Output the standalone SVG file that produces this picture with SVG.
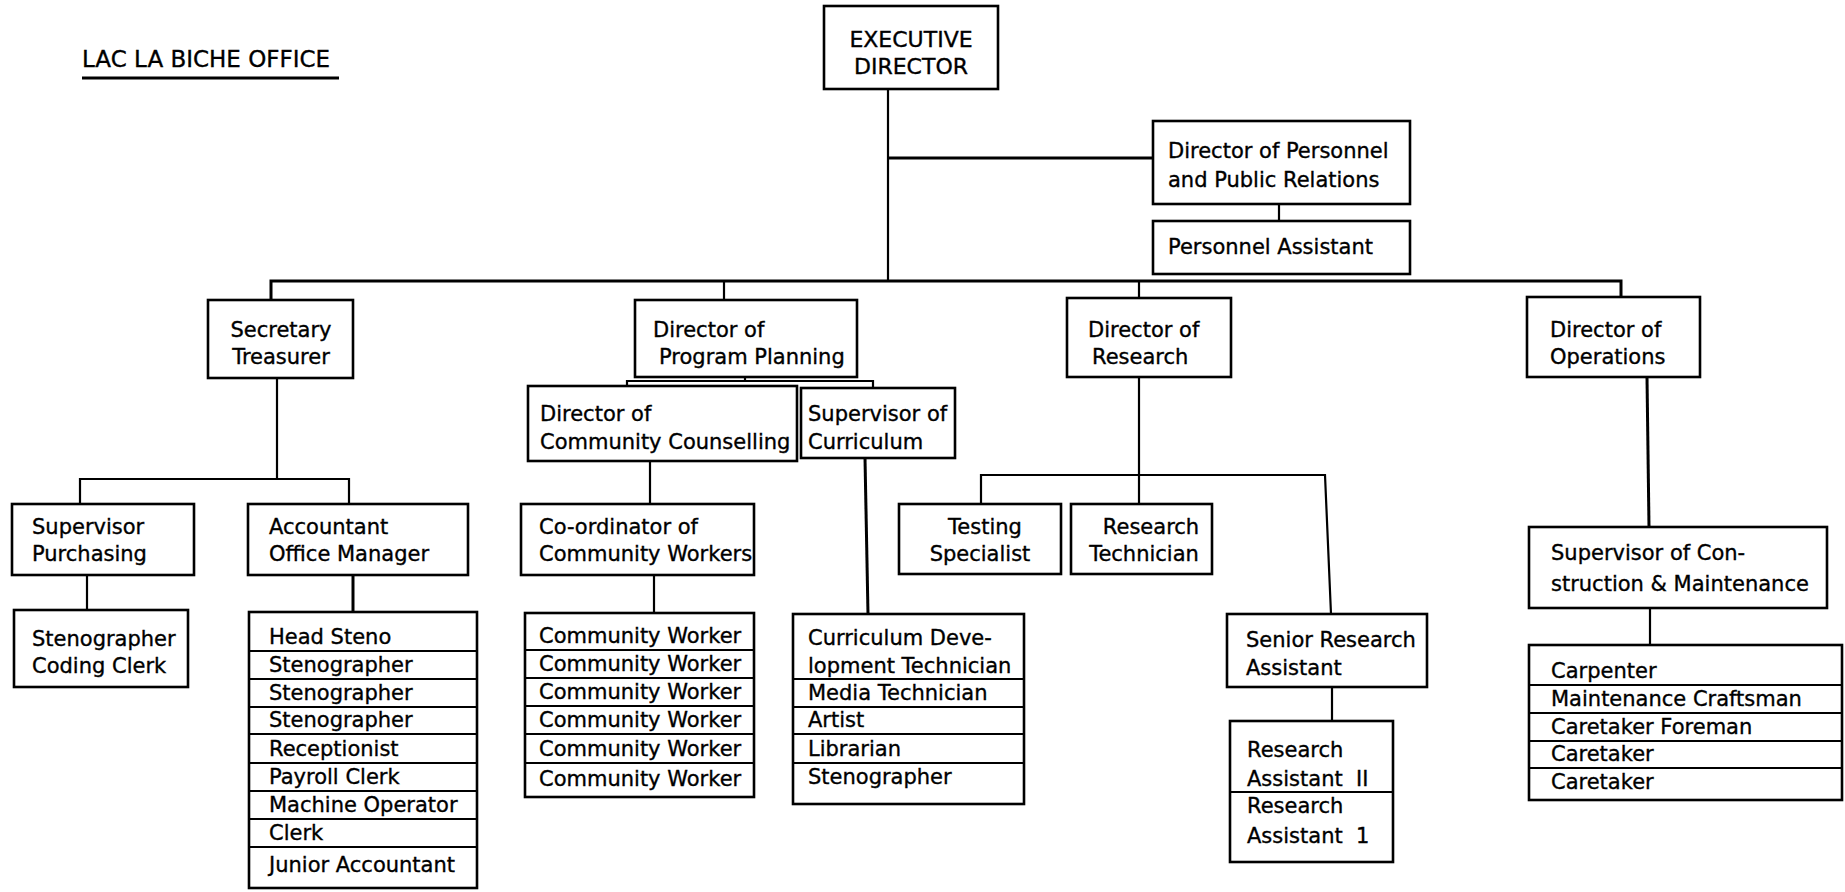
<svg xmlns="http://www.w3.org/2000/svg" width="1845" height="892" viewBox="0 0 1845 892">
<style>
.bg{fill:#fff}
.box{fill:#fff;stroke:#000;stroke-width:2.6}
.div{stroke:#000;stroke-width:2.2;fill:none}
.c{stroke:#000;stroke-width:2.2;fill:none}
.cb{stroke:#000;stroke-width:3;fill:none}
text{font-family:"DejaVu Sans","Liberation Sans",sans-serif;font-size:21px;fill:#000;stroke:#000;stroke-width:0.35}
.m{text-anchor:middle}
.h{font-size:22px}
</style>
<rect class="bg" x="0" y="0" width="1845" height="892"/>

<g id="title">
<text x="82" y="67" style="font-size:23px">LAC LA BICHE OFFICE</text>
<line x1="82" y1="78" x2="339" y2="78" stroke="#000" stroke-width="2.8"/>
</g>

<g id="connectors">
<polyline class="c" points="888,89 888,281"/>
<polyline class="cb" points="888,158 1153,158"/>
<polyline class="c" points="1279,204 1279,221"/>
<polyline class="cb" points="271,300 271,281 1621,281 1621,297"/>
<polyline class="c" points="724,281 724,300"/>
<polyline class="c" points="1139,281 1139,298"/>
<!-- Secretary Treasurer -->
<polyline class="c" points="277,378 277,479"/>
<polyline class="c" points="80,504 80,479 349,479 349,504"/>
<polyline class="c" points="87,575 87,610"/>
<polyline class="cb" points="353,575 353,612"/>
<!-- Program Planning -->
<polyline class="c" points="745,377 745,381"/>
<polyline class="c" points="627,386 627,381 873,381 873,388"/>
<polyline class="c" points="650,461 650,504"/>
<polyline class="c" points="654,575 654,613"/>
<polyline class="cb" points="865,458 868,614"/>
<!-- Research -->
<polyline class="c" points="1139,377 1139,504"/>
<polyline class="c" points="981,504 981,475 1325,475 1331,614"/>
<polyline class="c" points="1332,687 1332,721"/>
<!-- Operations -->
<polyline class="cb" points="1647,377 1649,527"/>
<polyline class="c" points="1650,608 1650,645"/>
</g>

<g id="executive-director">
<rect class="box" x="824" y="6" width="174" height="83"/>
<text class="m h" x="911" y="47">EXECUTIVE</text>
<text class="m h" x="911" y="74">DIRECTOR</text>
</g>

<g id="director-personnel">
<rect class="box" x="1153" y="121" width="257" height="83"/>
<text x="1168" y="158">Director of Personnel</text>
<text x="1168" y="187">and Public Relations</text>
</g>

<g id="personnel-assistant">
<rect class="box" x="1153" y="221" width="257" height="53"/>
<text x="1168" y="254">Personnel Assistant</text>
</g>

<g id="secretary-treasurer">
<rect class="box" x="208" y="300" width="145" height="78"/>
<text class="m" x="281" y="337">Secretary</text>
<text class="m" x="281" y="364">Treasurer</text>
</g>

<g id="director-program-planning">
<rect class="box" x="635" y="300" width="222" height="77"/>
<text x="653" y="337">Director of</text>
<text x="659" y="364">Program Planning</text>
</g>

<g id="director-research">
<rect class="box" x="1067" y="298" width="164" height="79"/>
<text x="1088" y="337">Director of</text>
<text x="1092" y="364">Research</text>
</g>

<g id="director-operations">
<rect class="box" x="1527" y="297" width="173" height="80"/>
<text x="1550" y="337">Director of</text>
<text x="1550" y="364">Operations</text>
</g>

<g id="supervisor-purchasing">
<rect class="box" x="12" y="504" width="182" height="71"/>
<text x="32" y="534">Supervisor</text>
<text x="32" y="561">Purchasing</text>
</g>

<g id="accountant-office-manager">
<rect class="box" x="248" y="504" width="220" height="71"/>
<text x="269" y="534">Accountant</text>
<text x="269" y="561">Office Manager</text>
</g>

<g id="stenographer-coding-clerk">
<rect class="box" x="14" y="610" width="174" height="77"/>
<text x="32" y="646">Stenographer</text>
<text x="32" y="673">Coding Clerk</text>
</g>

<g id="office-staff">
<rect class="box" x="249" y="612" width="228" height="276"/>
<path class="div" d="M249 651H477M249 679H477M249 707H477M249 734H477M249 763H477M249 791H477M249 819H477M249 847H477"/>
<text x="269" y="644">Head Steno</text>
<text x="269" y="672">Stenographer</text>
<text x="269" y="700">Stenographer</text>
<text x="269" y="727">Stenographer</text>
<text x="269" y="756">Receptionist</text>
<text x="269" y="784">Payroll Clerk</text>
<text x="269" y="812">Machine Operator</text>
<text x="269" y="840">Clerk</text>
<text x="269" y="872">Junior Accountant</text>
</g>

<g id="director-community-counselling">
<rect class="box" x="528" y="386" width="269" height="75"/>
<text x="540" y="421">Director of</text>
<text x="540" y="449">Community Counselling</text>
</g>

<g id="supervisor-curriculum">
<rect class="box" x="801" y="388" width="154" height="70"/>
<text x="808" y="421">Supervisor of</text>
<text x="808" y="449">Curriculum</text>
</g>

<g id="coordinator-community-workers">
<rect class="box" x="521" y="504" width="233" height="71"/>
<text x="539" y="534">Co-ordinator of</text>
<text x="539" y="561">Community Workers</text>
</g>

<g id="community-workers">
<rect class="box" x="525" y="613" width="229" height="184"/>
<path class="div" d="M525 650H754M525 678H754M525 706H754M525 734H754M525 763H754"/>
<text x="539" y="643">Community Worker</text>
<text x="539" y="671">Community Worker</text>
<text x="539" y="699">Community Worker</text>
<text x="539" y="727">Community Worker</text>
<text x="539" y="756">Community Worker</text>
<text x="539" y="786">Community Worker</text>
</g>

<g id="curriculum-staff">
<rect class="box" x="793" y="614" width="231" height="190"/>
<path class="div" d="M793 679H1024M793 707H1024M793 734H1024M793 763H1024"/>
<text x="808" y="645">Curriculum Deve-</text>
<text x="808" y="673">lopment Technician</text>
<text x="808" y="700">Media Technician</text>
<text x="808" y="727">Artist</text>
<text x="808" y="756">Librarian</text>
<text x="808" y="784">Stenographer</text>
</g>

<g id="testing-specialist">
<rect class="box" x="899" y="504" width="162" height="70"/>
<text class="m" x="985" y="534">Testing</text>
<text class="m" x="980" y="561">Specialist</text>
</g>

<g id="research-technician">
<rect class="box" x="1071" y="504" width="141" height="70"/>
<text class="m" x="1151" y="534">Research</text>
<text class="m" x="1144" y="561">Technician</text>
</g>

<g id="senior-research-assistant">
<rect class="box" x="1227" y="614" width="200" height="73"/>
<text x="1246" y="647">Senior Research</text>
<text x="1246" y="675">Assistant</text>
</g>

<g id="research-assistants">
<rect class="box" x="1230" y="721" width="163" height="141"/>
<path class="div" d="M1230 792H1393"/>
<text x="1247" y="757">Research</text>
<text x="1247" y="786" xml:space="preserve">Assistant  II</text>
<text x="1247" y="813">Research</text>
<text x="1247" y="843" xml:space="preserve">Assistant  1</text>
</g>

<g id="supervisor-construction">
<rect class="box" x="1529" y="527" width="298" height="81"/>
<text x="1551" y="560">Supervisor of Con-</text>
<text x="1551" y="591">struction &amp; Maintenance</text>
</g>

<g id="maintenance-staff">
<rect class="box" x="1529" y="645" width="313" height="155"/>
<path class="div" d="M1529 685H1842M1529 713H1842M1529 741H1842M1529 768H1842"/>
<text x="1551" y="678">Carpenter</text>
<text x="1551" y="706">Maintenance Craftsman</text>
<text x="1551" y="734">Caretaker Foreman</text>
<text x="1551" y="761">Caretaker</text>
<text x="1551" y="789">Caretaker</text>
</g>
</svg>
